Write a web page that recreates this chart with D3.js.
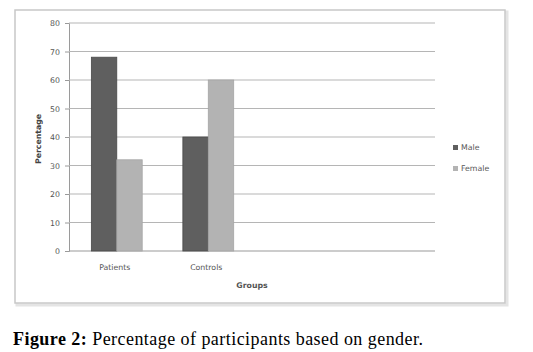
<!DOCTYPE html>
<html>
<head>
<meta charset="utf-8">
<script src="https://cdn.jsdelivr.net/npm/d3@7"></script>
<style>
  body { margin: 0; background: #fff; }
  svg { display: block; }
</style>
</head>
<body>
<div id="chart"></div>
<script>
// Données
const categories = ['Patients', 'Controls', '', ' '];
const seriesNames = ['Male', 'Female'];
const maleValues = [68, 40];
const femaleValues = [32, 60];
const yTicks = [0, 10, 20, 30, 40, 50, 60, 70, 80];

const colors = {Male: '#5f5f5f', Female: '#b3b3b3'};

const width = 533, height = 352;
const plot = {left: 69, right: 435, top: 23, bottom: 251};

const svg = d3.select('#chart').append('svg')
  .attr('width', width)
  .attr('height', height);

// Cadre du graphique
svg.append('rect')
  .attr('x', 17).attr('y', 12)
  .attr('width', 490).attr('height', 293)
  .attr('fill', 'none')
  .attr('stroke', '#e4e4e4')
  .attr('stroke-width', 3);
svg.append('rect')
  .attr('x', 15).attr('y', 10)
  .attr('width', 490).attr('height', 293)
  .attr('fill', '#fff')
  .attr('stroke', '#c8c8c8')
  .attr('stroke-width', 1.5);

// Échelles
const xScale = d3.scaleBand()
  .domain(categories)
  .range([plot.left, plot.right]);
const xSub = d3.scaleBand()
  .domain(seriesNames)
  .range([0, xScale.bandwidth()])
  .paddingInner(0)
  .paddingOuter(0.8)
  .align(0.55);
const yScale = d3.scaleLinear()
  .domain([0, 80])
  .range([plot.bottom, plot.top]);

// Axe Y
const gY = svg.append('g')
  .attr('transform', `translate(${plot.left},0)`)
  .call(d3.axisLeft(yScale).tickValues(yTicks).tickSize(4)
    .tickFormat(d3.format('d')));
gY.select('.domain').attr('stroke', '#9a9a9a');
gY.selectAll('.tick line').attr('stroke', '#9a9a9a');
gY.selectAll('.tick text')
  .attr('x', -9)
  .attr('fill', '#555')
  .attr('font-family', 'DejaVu Sans, sans-serif')
  .attr('font-size', 7.8);

// Lignes de grille
svg.append('g').attr('class', 'grid')
  .selectAll('line')
  .data(yTicks)
  .enter()
  .append('line')
  .attr('x1', plot.left)
  .attr('x2', plot.right)
  .attr('y1', d => yScale(d))
  .attr('y2', d => yScale(d))
  .attr('stroke', d => d === 0 ? '#9a9a9a' : '#b5b5b5')
  .attr('stroke-width', 1.2);

// Barres
const barData = [];
categories.slice(0, 2).forEach((c, i) => {
  barData.push({Category: c, Sex: 'Male', Value: maleValues[i]});
  barData.push({Category: c, Sex: 'Female', Value: femaleValues[i]});
});

svg.append('g').selectAll('rect')
  .data(barData)
  .enter()
  .append('rect')
  .attr('x', d => xScale(d.Category) + xSub(d.Sex))
  .attr('y', d => yScale(d.Value))
  .attr('width', xSub.bandwidth())
  .attr('height', d => yScale(0) - yScale(d.Value))
  .attr('fill', d => colors[d.Sex])
  .attr('stroke', d => d.Sex === 'Male' ? '#4a4a4a' : '#a5a5a5')
  .attr('stroke-width', 0.8);

// Étiquettes de catégories
svg.append('g').selectAll('text')
  .data(categories.slice(0, 2))
  .enter()
  .append('text')
  .text(d => d)
  .attr('x', d => xScale(d) + xScale.bandwidth() / 2)
  .attr('y', 270)
  .attr('text-anchor', 'middle')
  .attr('fill', '#555')
  .attr('font-family', 'DejaVu Sans, sans-serif')
  .attr('font-size', 7.8);

// Titres des axes
svg.append('text')
  .text('Groups')
  .attr('x', 252)
  .attr('y', 288)
  .attr('text-anchor', 'middle')
  .attr('fill', '#555')
  .attr('font-weight', 'bold')
  .attr('font-family', 'DejaVu Sans, sans-serif')
  .attr('font-size', 7.8);

svg.append('text')
  .text('Percentage')
  .attr('transform', `translate(41,${(plot.top + plot.bottom) / 2 + 2}),rotate(-90)`)
  .attr('text-anchor', 'middle')
  .attr('fill', '#444')
  .attr('font-weight', 'bold')
  .attr('font-family', 'DejaVu Sans, sans-serif')
  .attr('font-size', 7.8);

// Légende
const legend = svg.append('g').attr('class', 'legend')
  .attr('transform', 'translate(453,148)');
const cells = legend.selectAll('.cell')
  .data(seriesNames)
  .enter()
  .append('g')
  .attr('class', 'cell')
  .attr('transform', (d, i) => `translate(0,${21 * i})`);
cells.append('rect')
  .attr('x', 0).attr('y', -3)
  .attr('width', 5).attr('height', 5)
  .attr('fill', d => colors[d]);
cells.append('text')
  .text(d => d)
  .attr('x', 8)
  .attr('y', 0)
  .attr('dominant-baseline', 'middle')
  .attr('fill', '#555')
  .attr('font-family', 'DejaVu Sans, sans-serif')
  .attr('font-size', 7.8);

// Légende de la figure
const caption = svg.append('text')
  .attr('x', 13)
  .attr('y', 345)
  .attr('font-family', 'Liberation Serif, Times New Roman, serif')
  .attr('font-size', 18)
  .attr('letter-spacing', 0.45)
  .attr('fill', '#000');
caption.append('tspan').attr('font-weight', 'bold').text('Figure 2:');
caption.append('tspan').text(' Percentage of participants based on gender.');
</script>
</body>
</html>
